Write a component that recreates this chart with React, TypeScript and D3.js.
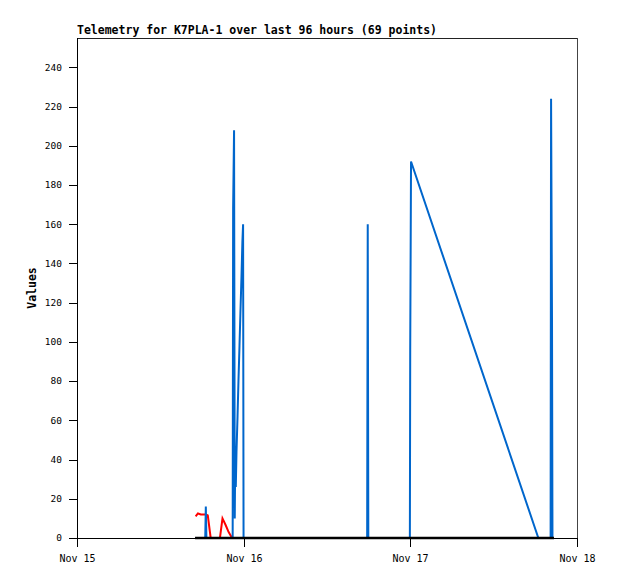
import React from "react";
import * as d3 from "d3";

const TITLE = "Telemetry for K7PLA-1 over last 96 hours (69 points)";
const Y_LABEL = "Values";

const X_START = "2023-11-15 00:00";
const X_END = "2023-11-18 00:00";
const X_TICKS = ["2023-11-15 00:00", "2023-11-16 00:00", "2023-11-17 00:00", "2023-11-18 00:00"];
const Y_TICKS = [0, 20, 40, 60, 80, 100, 120, 140, 160, 180, 200, 220, 240];
const Y_MAX = 255;

// Red series
const redTimes = [
  "2023-11-15 17:05", "2023-11-15 17:25", "2023-11-15 17:50", "2023-11-15 18:35",
  "2023-11-15 18:50", "2023-11-15 19:15", "2023-11-15 20:35", "2023-11-15 20:57",
  "2023-11-15 21:25", "2023-11-15 21:50", "2023-11-15 22:20",
];
const redValues = [11, 12.5, 12, 12, 11.5, 0, 0, 10, 6.5, 3, 0];

// Blue series
const blueTimes = [
  "2023-11-15 17:00", "2023-11-15 18:28", "2023-11-15 18:33", "2023-11-15 18:38",
  "2023-11-15 22:25", "2023-11-15 22:29", "2023-11-15 22:37", "2023-11-15 22:43",
  "2023-11-15 22:47", "2023-11-15 22:52", "2023-11-15 22:58", "2023-11-15 23:07",
  "2023-11-15 23:15", "2023-11-15 23:24", "2023-11-15 23:32", "2023-11-15 23:41",
  "2023-11-15 23:49", "2023-11-15 23:55", "2023-11-15 23:59",
  "2023-11-16 17:47", "2023-11-16 17:52", "2023-11-16 17:57",
  "2023-11-16 23:56", "2023-11-16 23:59", "2023-11-17 00:06", "2023-11-17 18:26",
  "2023-11-17 20:12", "2023-11-17 20:16", "2023-11-17 20:24", "2023-11-17 20:28",
];
const blueValues = [
  0, 0, 16, 0,
  0, 168, 208, 10,
  40, 26, 44, 62,
  80, 98, 115, 133,
  151, 160, 0,
  0, 160, 0,
  0, 96, 192, 0,
  0, 224, 112, 0,
];

// Black series
const blackTimes = ["2023-11-15 17:00", "2023-11-17 20:41"];
const blackValues = [0, 0];

const W = 618;
const H = 579;
const L = 77, R = 577, T = 38, B = 538;

const parse = d3.timeParse("%Y-%m-%d %H:%M");

export default function App() {
  const x = d3.scaleTime().domain([parse(X_START)!, parse(X_END)!]).range([L, R]);
  const y = d3.scaleLinear().domain([0, Y_MAX]).range([B, T]);
  const fmt = d3.timeFormat("%b %d");

  const mk = (times: string[], vals: number[]) =>
    d3
      .line<number>()
      .x((i) => x(parse(times[i])!))
      .y((i) => y(vals[i]))(d3.range(times.length)) || "";

  const mono = "'DejaVu Sans Mono', 'Liberation Mono', monospace";

  return (
    <div style={{ position: "absolute", left: 0, top: 0 }}>
      <svg width={W} height={H} style={{ display: "block", background: "#fff" }}>
        <rect x={0} y={0} width={W} height={H} fill="#fff" />
        {/* frame */}
        <line x1={L} x2={R} y1={T + 0.5} y2={T + 0.5} stroke="#222" />
        <line x1={R + 0.5} x2={R + 0.5} y1={T} y2={B} stroke="#444" />
        {/* series */}
        <path d={mk(redTimes, redValues)} fill="none" stroke="#ff0000" strokeWidth={2} />
        <path d={mk(blueTimes, blueValues)} fill="none" stroke="#0066cc" strokeWidth={2} />
        <path d={mk(blackTimes, blackValues)} fill="none" stroke="#000" strokeWidth={2.5} />
        {/* axes */}
        <line x1={L + 0.5} x2={L + 0.5} y1={T} y2={B + 1} stroke="#000" />
        <line x1={L} x2={R + 1} y1={B + 0.5} y2={B + 0.5} stroke="#000" />
        {Y_TICKS.map((v) => (
          <g key={v}>
            <line x1={L - 8} x2={L} y1={Math.round(y(v)) + 0.5} y2={Math.round(y(v)) + 0.5} stroke="#000" />
            <text x={62} y={y(v)} dy="0.35em" textAnchor="end" fontFamily={mono} fontSize={9.5} fill="#000">
              {v}
            </text>
          </g>
        ))}
        {X_TICKS.map((s) => {
          const d = parse(s)!;
          const px = Math.round(x(d)) + 0.5;
          return (
            <g key={s}>
              <line x1={px} x2={px} y1={B} y2={B + 9} stroke="#000" />
              <text x={px} y={562} textAnchor="middle" fontFamily={mono} fontSize={10} fill="#000">
                {fmt(d)}
              </text>
            </g>
          );
        })}
        <text x={77} y={34} fontFamily={mono} fontSize={11.5} fontWeight="bold" fill="#000">
          {TITLE}
        </text>
        <text
          transform={`translate(36,${(T + B) / 2}) rotate(-90)`}
          textAnchor="middle"
          fontFamily={mono}
          fontSize={11.5}
          fontWeight="bold"
          fill="#000"
        >
          {Y_LABEL}
        </text>
      </svg>
    </div>
  );
}
